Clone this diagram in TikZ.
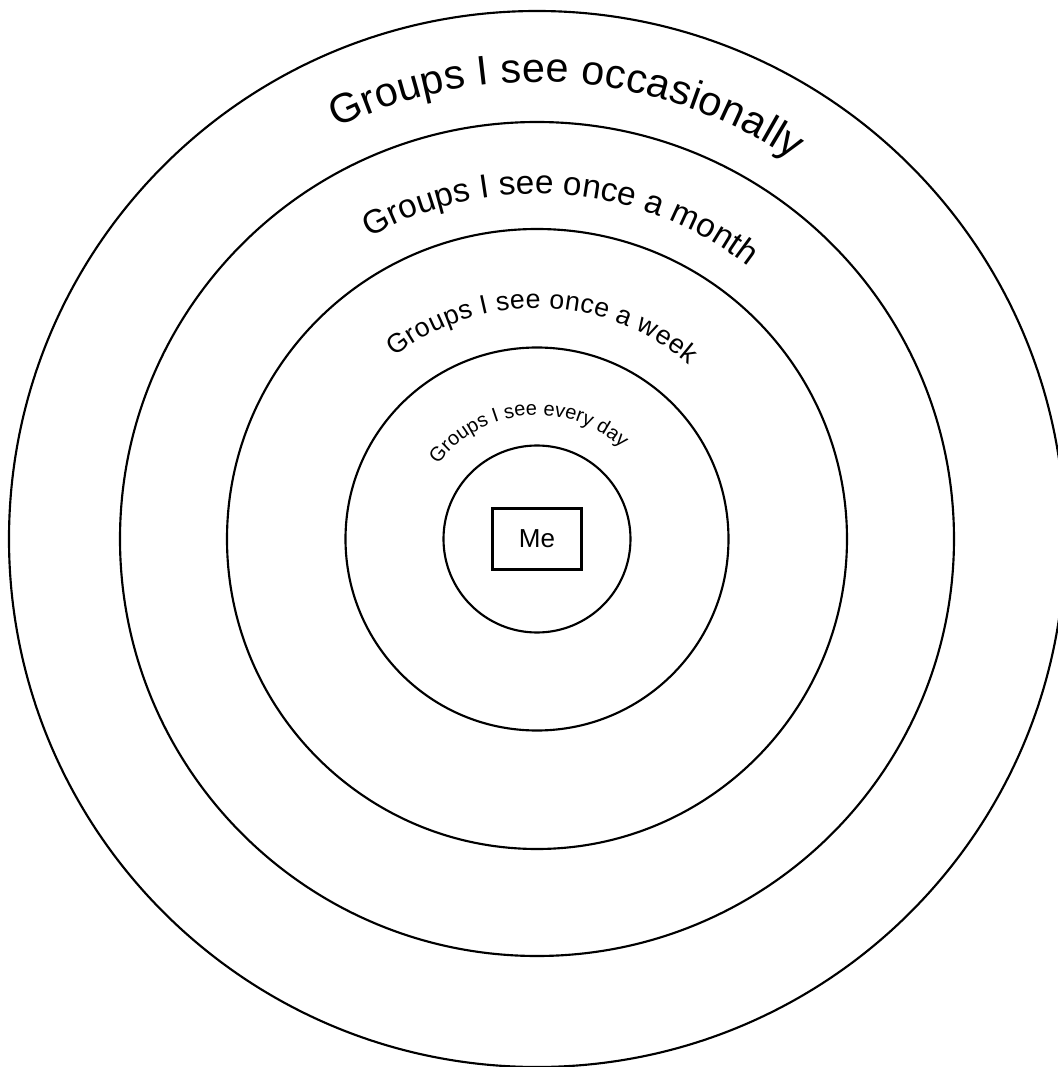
\documentclass[tikz,border=0pt]{standalone}
\usepackage{fontspec}
\setmainfont{Liberation Sans}
\usepackage{tikz}
\usetikzlibrary{decorations.text}

\newcommand{\ringtext}[5]{% start angle, end angle, radius, font size, text
  \path[decorate,decoration={text along path,text align=fit to path,
      text={|\fontsize{#4}{#4}\selectfont|#5}}]
    (#1:#3) arc[start angle=#1,end angle=#2,radius=#3];}

\begin{document}
\begin{tikzpicture}[x=0.75pt,y=0.75pt,ring/.style={line width=1.6pt}]
        \useasboundingbox (-537,-528) rectangle (520,539);
        \draw[ring]
        (0,0) circle[radius=528]
        (0,0) circle[radius=417]
        (0,0) circle[radius=310]
        (0,0) circle[radius=191.5]
        (0,0) circle[radius=93.5];
        \node[draw,ring,minimum width=66.75pt,minimum height=45.75pt,font=\fontsize{19.5}{19.5}\selectfont] (me) at (0,0) {Me};
        \ringtext{116}{56}{457}{31}{Groups I see occasionally}
        \ringtext{119}{53}{345}{25}{Groups I see once a month}
        \ringtext{128}{49}{231}{20}{Groups I see once a week}
        \ringtext{143}{47}{124}{15}{Groups I see every day}
      \end{tikzpicture}
\end{document}
